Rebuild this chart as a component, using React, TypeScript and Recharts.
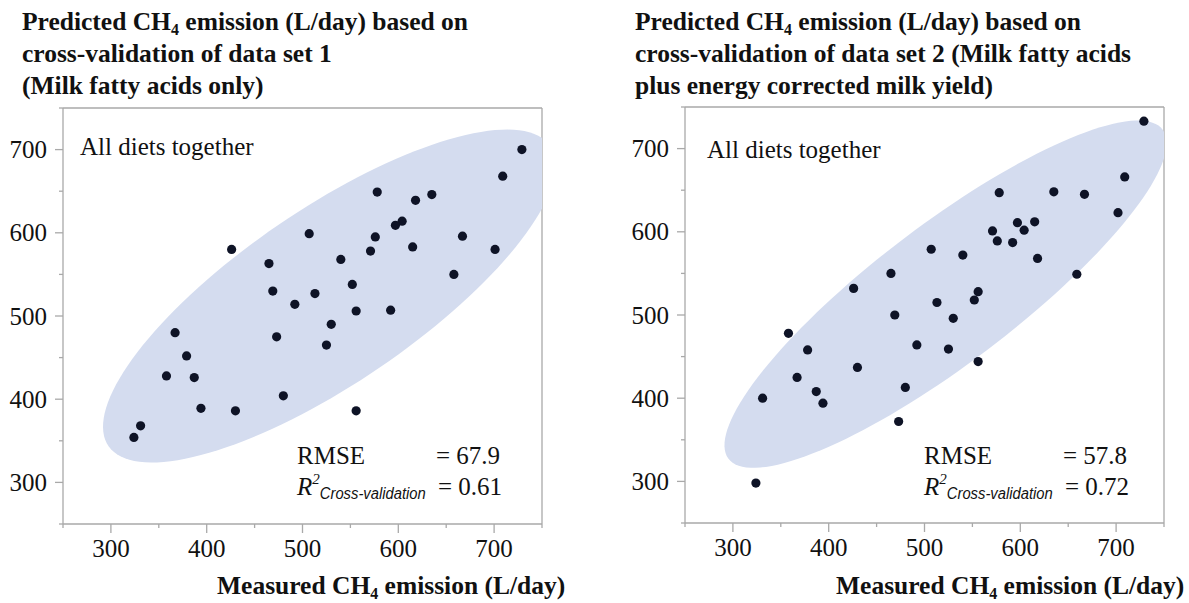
import React from "react";
import { ScatterChart, Scatter, XAxis, YAxis, ReferenceLine } from "recharts";

const axisTicks = [250, 300, 350, 400, 450, 500, 550, 600, 650, 700, 750];

// data set 1: milk fatty acids only
const measured1 = [729, 709, 578, 635, 618, 604, 597, 507, 576, 667, 426, 571, 615, 701, 465, 540, 658, 552, 469, 513, 492, 556, 592, 530, 473, 525, 367, 379, 358, 387, 480, 394, 430, 556, 331, 324];
const predicted1 = [700, 668, 649, 646, 639, 614, 609, 599, 595, 596, 580, 578, 583, 580, 563, 568, 550, 538, 530, 527, 514, 506, 507, 490, 475, 465, 480, 452, 428, 426, 404, 389, 386, 386, 368, 354];

// data set 2: milk fatty acids plus ECM yield
const measured2 = [729, 709, 578, 635, 667, 702, 597, 615, 604, 571, 576, 592, 507, 540, 618, 465, 659, 426, 556, 552, 513, 469, 530, 358, 492, 378, 525, 556, 430, 367, 480, 387, 331, 394, 473, 324];
const predicted2 = [733, 666, 647, 648, 645, 623, 611, 612, 602, 601, 589, 587, 579, 572, 568, 550, 549, 532, 528, 518, 515, 500, 496, 478, 464, 458, 459, 444, 437, 425, 413, 408, 400, 394, 372, 298];

// density ellipses: centre x, centre y, semi-major, semi-minor, angle (deg), in data units
const ellipse1 = [528, 524, 293, 100, 39];
const ellipse2 = [522, 525, 301, 79, 41.7];

const AXIS = "#a9a9a9";
const DOT = "#0e1326";
const FILL = "#d4dcef";
const SERIF = '"Liberation Serif", "Times New Roman", serif';
const TS = 9;
const TM = 6;

function ellipseOutline([cx, cy, a, b, deg]: number[]) {
  const t = (deg * Math.PI) / 180;
  const out: { x: number; y: number }[] = [];
  for (let i = 0; i <= 144; i++) {
    const s = (i / 144) * 2 * Math.PI;
    out.push({
      x: cx + a * Math.cos(s) * Math.cos(t) - b * Math.sin(s) * Math.sin(t),
      y: cy + a * Math.cos(s) * Math.sin(t) + b * Math.sin(s) * Math.cos(t),
    });
  }
  return out;
}

function XTick(props: any) {
  const { x, y, payload } = props;
  const major = payload.value % 100 === 0;
  const y0 = y - TS - TM;
  return (
    <g>
      <line x1={x} x2={x} y1={y0} y2={y0 + (major ? 9 : 4)} stroke={AXIS} strokeWidth={1.3} />
      {major && (
        <text x={x} y={y0 + 33} textAnchor="middle" fontFamily={SERIF} fontSize={25} fill="#111">
          {payload.value}
        </text>
      )}
    </g>
  );
}

function YTick(props: any) {
  const { x, y, payload } = props;
  const major = payload.value % 100 === 0;
  const x0 = x + TS + TM;
  return (
    <g>
      <line x1={x0 - (major ? 8 : 4)} x2={x0} y1={y} y2={y} stroke={AXIS} strokeWidth={1.3} />
      {major && (
        <text x={x0 - 16} y={y + 8.5} textAnchor="end" fontFamily={SERIF} fontSize={25} fill="#111">
          {payload.value}
        </text>
      )}
    </g>
  );
}

function Panel({
  left,
  width,
  margin,
  measured,
  predicted,
  ellipse,
}: {
  left: number;
  width: number;
  margin: { top: number; right: number; bottom: number; left: number };
  measured: number[];
  predicted: number[];
  ellipse: number[];
}) {
  const points = measured.map((m, i) => ({ x: m, y: predicted[i] }));
  return (
    <div style={{ position: "absolute", left, top: 0 }}>
      <ScatterChart width={width} height={603} margin={margin}>
        <XAxis
          type="number"
          dataKey="x"
          domain={[250, 750]}
          ticks={axisTicks}
          interval={0}
          allowDataOverflow
          height={40}
          tickSize={TS}
          tickMargin={TM}
          tickLine={false}
          tick={XTick}
          axisLine={{ stroke: AXIS, strokeWidth: 1.3 }}
        />
        <YAxis
          type="number"
          dataKey="y"
          domain={[250, 750]}
          ticks={axisTicks}
          interval={0}
          allowDataOverflow
          width={60}
          tickSize={TS}
          tickMargin={TM}
          tickLine={false}
          tick={YTick}
          axisLine={{ stroke: AXIS, strokeWidth: 1.3 }}
        />
        <Scatter
          data={ellipseOutline(ellipse)}
          fill={FILL}
          line={{ fill: FILL, stroke: "none" }}
          shape={() => <g />}
          isAnimationActive={false}
        />
        <Scatter data={points} fill={DOT} shape={(p: any) => <circle cx={p.cx} cy={p.cy} r={4.6} fill={DOT} />} isAnimationActive={false} />
        <ReferenceLine x={750} stroke={AXIS} strokeWidth={1.3} />
        <ReferenceLine y={750} stroke={AXIS} strokeWidth={1.3} />
      </ScatterChart>
    </div>
  );
}

function Title({ x, lines }: { x: number; lines: string[] }) {
  return (
    <text fontFamily={SERIF} fontWeight="bold" fontSize={25.5} fill="#111">
      <tspan x={x} y={30}>
        Predicted CH
        <tspan fontSize={16} dy={5}>4</tspan>
        <tspan dy={-5}> emission (L/day) based on</tspan>
      </tspan>
      {lines.map((l, i) => (
        <tspan key={i} x={x} y={62 + i * 32}>
          {l}
        </tspan>
      ))}
    </text>
  );
}

function Stats({ x, eqX, rmse, r2 }: { x: number; eqX: number; rmse: string; r2: string }) {
  return (
    <g fontFamily={SERIF} fontSize={25} fill="#111">
      <text x={x} y={464}>RMSE</text>
      <text x={eqX} y={464}>= {rmse}</text>
      <text x={x} y={495}>
        <tspan fontStyle="italic">R</tspan>
        <tspan fontSize={15} dy={-11} fontStyle="italic">2</tspan>
        <tspan fontSize={16} dy={15} fontStyle="italic" fontFamily='"Liberation Sans", Arial, sans-serif' textLength={106} lengthAdjust="spacingAndGlyphs">
          Cross-validation
        </tspan>
      </text>
      <text x={eqX + 2} y={495}>= {r2}</text>
    </g>
  );
}

function XLabel({ x }: { x: number }) {
  return (
    <text x={x} y={594} fontFamily={SERIF} fontWeight="bold" fontSize={25.5} fill="#111">
      Measured CH
      <tspan fontSize={16} dy={5}>4</tspan>
      <tspan dy={-5}> emission (L/day)</tspan>
    </text>
  );
}

export default function App() {
  return (
    <div style={{ position: "absolute", left: 0, top: 0, width: 1189, height: 603, background: "#fff", overflow: "hidden" }}>
      <Panel
        left={0}
        width={560}
        margin={{ top: 108, right: 18, bottom: 39, left: 3 }}
        measured={measured1}
        predicted={predicted1}
        ellipse={ellipse1}
      />
      <Panel
        left={600}
        width={589}
        margin={{ top: 107, right: 25, bottom: 40, left: 25 }}
        measured={measured2}
        predicted={predicted2}
        ellipse={ellipse2}
      />
      <svg width={1189} height={603} style={{ position: "absolute", left: 0, top: 0, pointerEvents: "none" }}>
        <Title x={22} lines={["cross-validation of data set 1", "(Milk fatty acids only)"]} />
        <Title x={635} lines={["cross-validation of data set 2 (Milk fatty acids", "plus energy corrected milk yield)"]} />
        <text x={80} y={155} fontFamily={SERIF} fontSize={25} fill="#111">All diets together</text>
        <text x={707} y={158} fontFamily={SERIF} fontSize={25} fill="#111">All diets together</text>
        <Stats x={297} eqX={436} rmse="67.9" r2="0.61" />
        <Stats x={924} eqX={1063} rmse="57.8" r2="0.72" />
        <XLabel x={217} />
        <XLabel x={836} />
      </svg>
    </div>
  );
}
